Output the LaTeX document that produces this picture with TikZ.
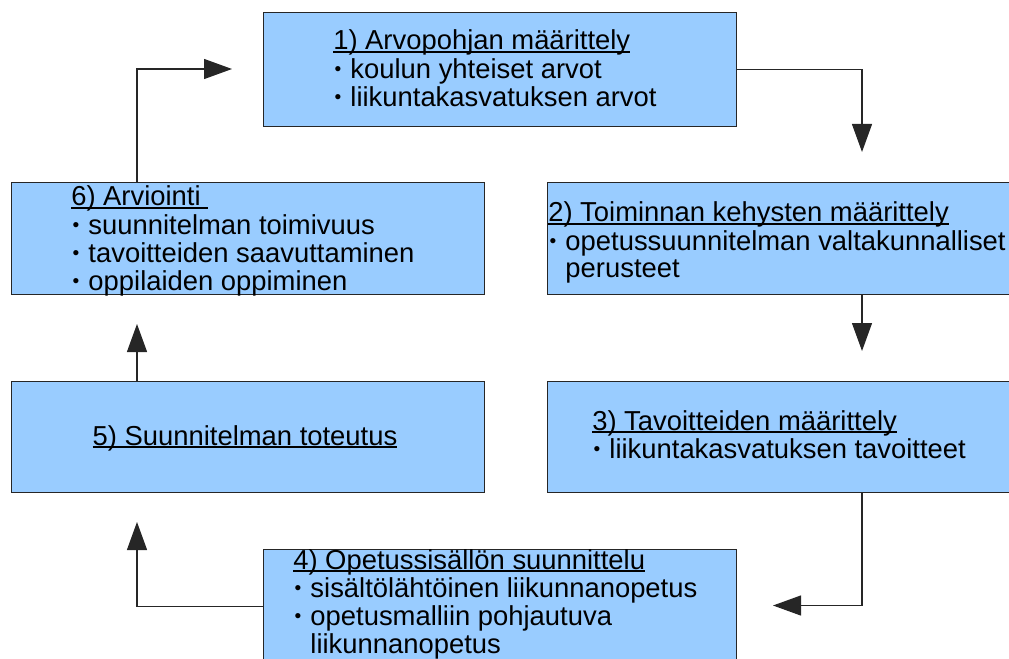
\documentclass[tikz,border=0pt]{standalone}
\usepackage{fontspec}
\setmainfont{Liberation Sans}
\usetikzlibrary{arrows.meta}
\definecolor{boxblue}{RGB}{153,204,255}
\newcommand\myul[1]{\setbox0\hbox{#1}\rlap{\rule[-2.2pt]{\wd0}{1.1pt}}\box0}
\newcommand\bul{\makebox[0.35em][c]{\raisebox{0.1em}{\scalebox{0.7}{•}}}\ }
\newcommand\bulspace{\phantom{\bul}}
\begin{document}
\begin{tikzpicture}[x=0.75pt,y=-0.75pt,
  box/.style={draw=black!85, line width=0.9pt, fill=boxblue, rectangle, inner sep=0pt, anchor=north west, minimum width=354.75pt},
  txt/.style={anchor=base west, inner sep=0pt, font=\fontsize{20.55}{20.6}\selectfont},
  conn/.style={draw=black!85, line width=0.9pt, -{Triangle[length=21pt,width=15pt]}}]
\useasboundingbox (0,0) rectangle (1009,659);
\clip (0,0) rectangle (1009,659);
% boxes
\node[box, minimum height=85.5pt] (b1) at (263,12) {};
\node[box, minimum height=84pt] (b6) at (11,182) {};
\node[box, minimum height=84pt] (b2) at (547,182) {};
\node[box, minimum height=83.25pt] (b5) at (11,381) {};
\node[box, minimum height=83.25pt] (b3) at (547,381) {};
\node[box, minimum height=84.75pt] (b4) at (263,549) {};
% texts
\node[txt] (l1) at (333,50) {\begin{tabular}[t]{@{}l@{}}\myul{1) Arvopohjan määrittely}\\\bul koulun yhteiset arvot\\\bul liikuntakasvatuksen arvot\end{tabular}};
\node[txt] (l2) at (548,222) {\begin{tabular}[t]{@{}l@{}}\myul{2) Toiminnan kehysten määrittely}\\\bul opetussuunnitelman valtakunnalliset\\\bulspace perusteet\end{tabular}};
\node[txt] (l3) at (592,430) {\begin{tabular}[t]{@{}l@{}}\myul{3) Tavoitteiden määrittely}\\\bul liikuntakasvatuksen tavoitteet\end{tabular}};
\node[txt] (l4) at (293,569) {\begin{tabular}[t]{@{}l@{}}\myul{4) Opetussisällön suunnittelu}\\\bul sisältölähtöinen liikunnanopetus\\\bul opetusmalliin pohjautuva\\\bulspace liikunnanopetus\end{tabular}};
\node[txt, anchor=base] (l5) at (245,445) {\myul{5) Suunnitelman toteutus}};
\node[txt] (l6) at (71,206) {\begin{tabular}[t]{@{}l@{}}\myul{6) Arviointi\ }\\\bul suunnitelman toimivuus\\\bul tavoitteiden saavuttaminen\\\bul oppilaiden oppiminen\end{tabular}};
% arrow tips
\coordinate (t12) at (862,152);
\coordinate (t23) at (862,351);
\coordinate (t34) at (773,605.5);
\coordinate (t45) at (137,522);
\coordinate (t56) at (137,324);
\coordinate (t61) at (232,69);
% connectors
\draw[conn] (b1.east) -| (t12);
\draw[conn] (t23 |- b2.south) -- (t23);
\draw[conn] (t23 |- b3.south) |- (t34);
\draw[conn] (b4.west) -| (t45);
\draw[conn] (t56 |- b5.north) -- (t56);
\draw[conn] (t56 |- b6.north) |- (t61);
\end{tikzpicture}
\end{document}
